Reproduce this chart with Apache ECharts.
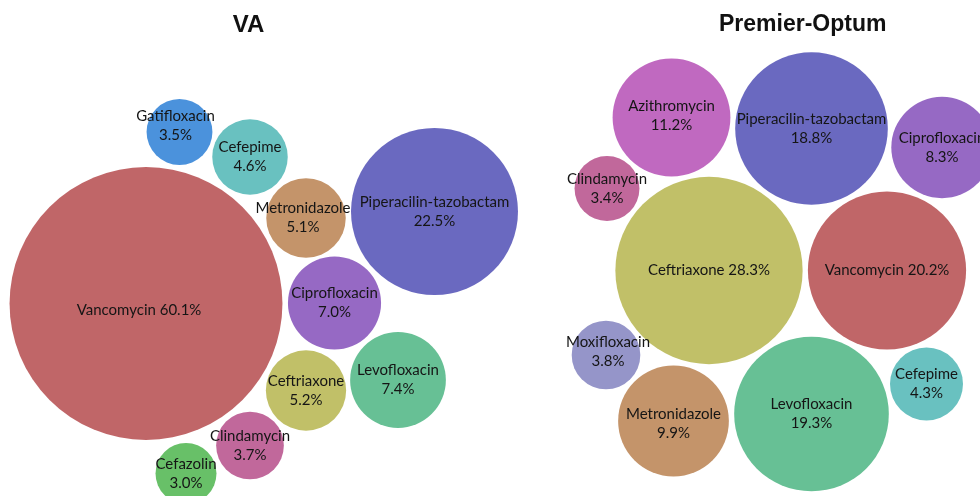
<!DOCTYPE html>
<html>
<head>
<meta charset="utf-8">
<script src="https://cdn.jsdelivr.net/npm/echarts@6/dist/echarts.min.js"></script>
<style>
html,body{margin:0;padding:0;background:#fff;}
#c{width:980px;height:496px;}
</style>
</head>
<body>
<div id="c"></div>
<script>
// ---- VA panel ----
const vaNames = ['Vancomycin','Piperacilin-tazobactam','Gatifloxacin','Cefepime','Metronidazole','Ciprofloxacin','Levofloxacin','Ceftriaxone','Clindamycin','Cefazolin'];
const vaShare = [60.1, 22.5, 3.5, 4.6, 5.1, 7.0, 7.4, 5.2, 3.7, 3.0];
// bubble centres (layout units)
const vaX = [146, 434.5, 179.5, 250, 306, 334.5, 398, 306, 250, 186];
const vaY = [303.5, 211.5, 132, 157, 218, 303, 380, 390.5, 445.5, 473.5];
const vaOneLine = ['Vancomycin'];

// ---- Premier-Optum panel ----
const poNames = ['Azithromycin','Piperacilin-tazobactam','Ciprofloxacin','Clindamycin','Ceftriaxone','Vancomycin','Moxifloxacin','Metronidazole','Levofloxacin','Cefepime'];
const poShare = [11.2, 18.8, 8.3, 3.4, 28.3, 20.2, 3.8, 9.9, 19.3, 4.3];
const poX = [671.5, 811.5, 942, 607, 709, 887, 606, 673.5, 811.5, 926.5];
const poY = [117.5, 128.5, 147.5, 188.5, 270.5, 270.5, 355, 421, 414, 384];
const poOneLine = ['Ceftriaxone','Vancomycin'];

const titles = ['VA', 'Premier-Optum'];

const colorOf = {
  'Vancomycin':'#c06668',
  'Piperacilin-tazobactam':'#6a69c0',
  'Gatifloxacin':'#4b92dc',
  'Cefepime':'#69c1c0',
  'Metronidazole':'#c4946a',
  'Ciprofloxacin':'#9669c4',
  'Levofloxacin':'#67c095',
  'Ceftriaxone':'#c1c068',
  'Clindamycin':'#c1689b',
  'Cefazolin':'#68c068',
  'Azithromycin':'#c069c0',
  'Moxifloxacin':'#9595c9'
};

// label nudges (style only), per panel
const vaLabelNudge = { 'Vancomycin': [-7, 7], 'Gatifloxacin': [-4, -6], 'Metronidazole': [-3, 0] };
const poLabelNudge = { 'Metronidazole': [0, 3], 'Moxifloxacin': [2, -3], 'Azithromycin': [0, -2] };

const K = 17.6; // px of radius per sqrt(percent)

function fmt(v){ return v.toFixed(1); }

const chart = echarts.init(document.getElementById('c'), null, {renderer:'canvas'});

const labelStyle = {
  show: true,
  position: 'inside',
  color: '#151515',
  fontFamily: 'Lato',
  fontSize: 15,
  lineHeight: 19
};

function seriesFor(idx, names, share, xs, ys, oneLine, nudge) {
  return {
    type: 'scatter',
    xAxisIndex: idx,
    yAxisIndex: idx,
    clip: false,
    symbol: 'circle',
    symbolSize: (val) => 2 * K * Math.sqrt(val[2]),
    data: names.map((n, i) => ({
      name: n,
      value: [xs[i], ys[i], share[i]],
      itemStyle: { color: colorOf[n], opacity: 1 },
      label: {
        offset: nudge[n] || [0, 0],
        formatter: (p) => oneLine.indexOf(n) >= 0
          ? n + ' ' + fmt(p.value[2]) + '%'
          : n + '\n' + fmt(p.value[2]) + '%'
      }
    })),
    label: labelStyle,
    emphasis: { disabled: true },
    silent: true
  };
}

chart.setOption({
  animation: false,
  backgroundColor: '#ffffff',
  title: [
    { text: titles[0], left: '24.85%', top: 8, textAlign: 'center',
      textStyle: { fontFamily: 'Liberation Sans', fontWeight: 'bold', fontSize: 24, color: '#111' } },
    { text: titles[1], left: '81.4%', top: 8, textAlign: 'center',
      textStyle: { fontFamily: 'Liberation Sans', fontWeight: 'bold', fontSize: 23, color: '#111' } }
  ],
  grid: [
    { left: 0, top: 0, width: 490, height: 496 },
    { left: 490, top: 0, width: 490, height: 496 }
  ],
  xAxis: [
    { type: 'value', gridIndex: 0, min: 0, max: 490, show: false },
    { type: 'value', gridIndex: 1, min: 490, max: 980, show: false }
  ],
  yAxis: [
    { type: 'value', gridIndex: 0, min: 0, max: 496, inverse: true, show: false },
    { type: 'value', gridIndex: 1, min: 0, max: 496, inverse: true, show: false }
  ],
  series: [
    seriesFor(0, vaNames, vaShare, vaX, vaY, vaOneLine, vaLabelNudge),
    seriesFor(1, poNames, poShare, poX, poY, poOneLine, poLabelNudge)
  ]
});
</script>
</body>
</html>
